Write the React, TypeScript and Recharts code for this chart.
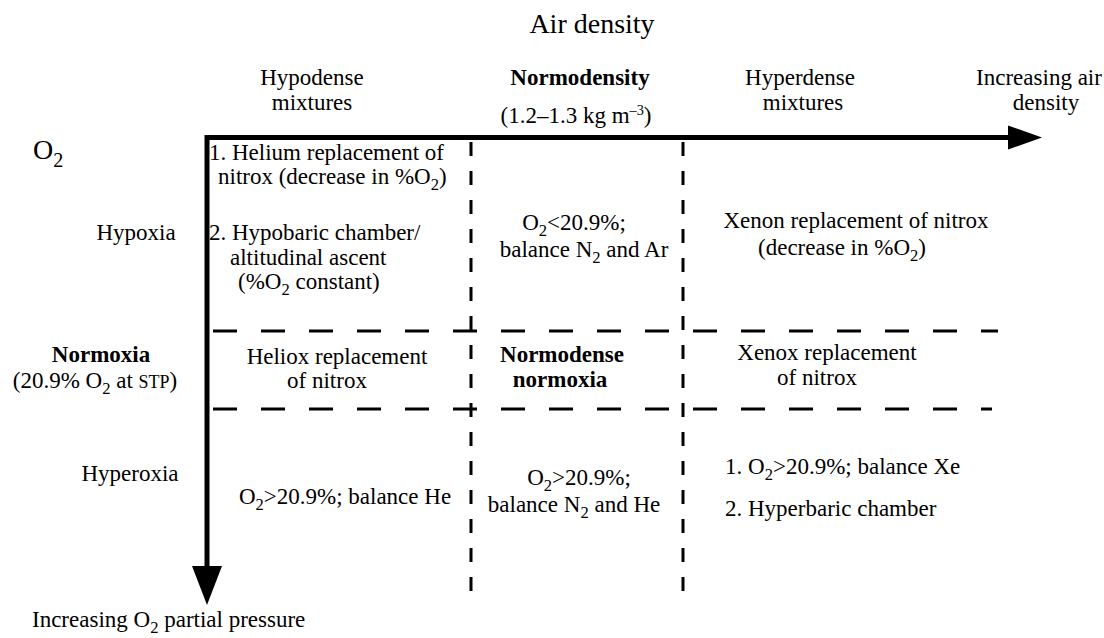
import React from 'react';
import { ComposedChart, XAxis, YAxis, Scatter, ReferenceLine } from 'recharts';

// Diagram coordinates: one unit = one pixel of the 1104x638 canvas (y grows downward)
const W = 1104;
const H = 638;

// solid axis shafts (x1, y1) -> (x2, y2)
const axisShafts = [
  { x1: 205, y1: 137.5, x2: 1010, y2: 137.5 },
  { x1: 207, y1: 135, x2: 207, y2: 568 },
];

// arrowhead tips
const arrowTips = [
  { x: 1042, y: 137.5, dir: 'right' },
  { x: 207, y: 605, dir: 'down' },
];

// dashed column separators
const columnLines = [
  { x: 471, y1: 142, y2: 598 },
  { x: 683, y1: 142, y2: 598 },
];

// dashed row separators
const rowLines = [
  { y: 331, x1: 213, x2: 998 },
  { y: 409, x1: 213, x2: 992 },
];

// text blocks: _2 = subscript, ^x = superscript, ~ABC~ = small caps
const labels = [
  { x: 592, y: 24, text: 'Air density', anchor: 'middle', size: 28 },
  { x: 312, y: 77, text: 'Hypodense', anchor: 'middle' },
  { x: 312, y: 102, text: 'mixtures', anchor: 'middle' },
  { x: 580, y: 77, text: 'Normodensity', anchor: 'middle', bold: true },
  { x: 576, y: 115, text: '(1.2–1.3 kg m^–3)', anchor: 'middle' },
  { x: 800, y: 77, text: 'Hyperdense', anchor: 'middle' },
  { x: 803, y: 102, text: 'mixtures', anchor: 'middle' },
  { x: 1039, y: 77, text: 'Increasing air', anchor: 'middle' },
  { x: 1046, y: 102, text: 'density', anchor: 'middle' },
  { x: 33, y: 150, text: 'O_2', anchor: 'start', size: 28 },
  { x: 209, y: 152, text: '1. Helium replacement of', anchor: 'start' },
  { x: 218, y: 176, text: 'nitrox (decrease in %O_2)', anchor: 'start' },
  { x: 136, y: 232, text: 'Hypoxia', anchor: 'middle' },
  { x: 209, y: 232, text: '2. Hypobaric chamber/', anchor: 'start' },
  { x: 230, y: 257, text: 'altitudinal ascent', anchor: 'start' },
  { x: 238, y: 281, text: '(%O_2 constant)', anchor: 'start' },
  { x: 574, y: 222, text: 'O_2<20.9%;', anchor: 'middle' },
  { x: 584, y: 249, text: 'balance N_2 and Ar', anchor: 'middle' },
  { x: 856, y: 220, text: 'Xenon replacement of nitrox', anchor: 'middle' },
  { x: 842, y: 247, text: '(decrease in %O_2)', anchor: 'middle' },
  { x: 101, y: 354, text: 'Normoxia', anchor: 'middle', bold: true },
  { x: 95, y: 380, text: '(20.9% O_2 at ~STP~)', anchor: 'middle' },
  { x: 337, y: 356, text: 'Heliox replacement', anchor: 'middle' },
  { x: 327, y: 380, text: 'of nitrox', anchor: 'middle' },
  { x: 562, y: 354, text: 'Normodense', anchor: 'middle', bold: true },
  { x: 560, y: 379, text: 'normoxia', anchor: 'middle', bold: true },
  { x: 827, y: 352, text: 'Xenox replacement', anchor: 'middle' },
  { x: 817, y: 377, text: 'of nitrox', anchor: 'middle' },
  { x: 130, y: 473, text: 'Hyperoxia', anchor: 'middle' },
  { x: 345, y: 496, text: 'O_2>20.9%; balance He', anchor: 'middle' },
  { x: 579, y: 477, text: 'O_2>20.9%;', anchor: 'middle' },
  { x: 574, y: 504, text: 'balance N_2 and He', anchor: 'middle' },
  { x: 725, y: 466, text: '1. O_2>20.9%; balance Xe', anchor: 'start' },
  { x: 725, y: 508, text: '2. Hyperbaric chamber', anchor: 'start' },
  { x: 32, y: 619, text: 'Increasing O_2 partial pressure', anchor: 'start' },
];

const FONT = '"Liberation Serif", "DejaVu Serif", serif';
const BODY = 23;

const richParts = (text: string, fs: number) => {
  const parts = text.split(/(_\d|\^[^)\s]+|~[^~]+~)/g).filter((p) => p !== '');
  let shift = 0;
  return parts.map((p, i) => {
    let size = fs;
    let content = p;
    let target = 0;
    if (p.startsWith('_')) {
      target = fs * 0.28;
      size = fs * 0.72;
      content = p.slice(1);
    } else if (p.startsWith('^')) {
      target = -fs * 0.35;
      size = fs * 0.62;
      content = p.slice(1);
    } else if (p.startsWith('~')) {
      size = fs * 0.78;
      content = p.slice(1, -1);
    }
    const dy = target - shift;
    shift = target;
    return (
      <tspan key={i} dy={dy || undefined} fontSize={size}>
        {content}
      </tspan>
    );
  });
};

const LabelShape = (props: any) => {
  const { cx, cy, payload } = props;
  const fs = payload.size || BODY;
  return (
    <text
      x={cx}
      y={cy + fs * 0.33}
      textAnchor={payload.anchor}
      fontFamily={FONT}
      fontWeight={payload.bold ? 'bold' : 'normal'}
      fontSize={fs}
      fill="#000"
      style={{ whiteSpace: 'pre' }}
    >
      {richParts(payload.text, fs)}
    </text>
  );
};

const ArrowHead = (props: any) => {
  const { cx, cy, payload } = props;
  const pts =
    payload.dir === 'right'
      ? `${cx},${cy} ${cx - 34},${cy - 12} ${cx - 34},${cy + 12}`
      : `${cx},${cy} ${cx - 15},${cy - 39} ${cx + 15},${cy - 39}`;
  return <polygon points={pts} fill="#000" />;
};

export default function App() {
  return (
    <div style={{ position: 'absolute', left: 0, top: 0, width: W, height: H, background: '#fff' }}>
      <ComposedChart width={W} height={H} margin={{ top: 0, right: 0, bottom: 0, left: 0 }}>
        <XAxis type="number" dataKey="x" domain={[0, W]} hide allowDataOverflow />
        <YAxis type="number" dataKey="y" domain={[0, H]} reversed hide allowDataOverflow />

        {columnLines.map((l, i) => (
          <ReferenceLine
            key={`c${i}`}
            segment={[{ x: l.x, y: l.y1 }, { x: l.x, y: l.y2 }]}
            stroke="#000"
            strokeWidth={3}
            strokeDasharray="14 15"
            ifOverflow="visible"
          />
        ))}
        {rowLines.map((l, i) => (
          <ReferenceLine
            key={`r${i}`}
            segment={[{ x: l.x1, y: l.y }, { x: l.x2, y: l.y }]}
            stroke="#000"
            strokeWidth={3}
            strokeDasharray="24 24"
            ifOverflow="visible"
          />
        ))}
        {axisShafts.map((s, i) => (
          <ReferenceLine
            key={`a${i}`}
            segment={[{ x: s.x1, y: s.y1 }, { x: s.x2, y: s.y2 }]}
            stroke="#000"
            strokeWidth={5}
            ifOverflow="visible"
          />
        ))}

        <Scatter data={arrowTips} shape={ArrowHead} isAnimationActive={false} />
        <Scatter data={labels} shape={LabelShape} isAnimationActive={false} />
      </ComposedChart>
    </div>
  );
}
